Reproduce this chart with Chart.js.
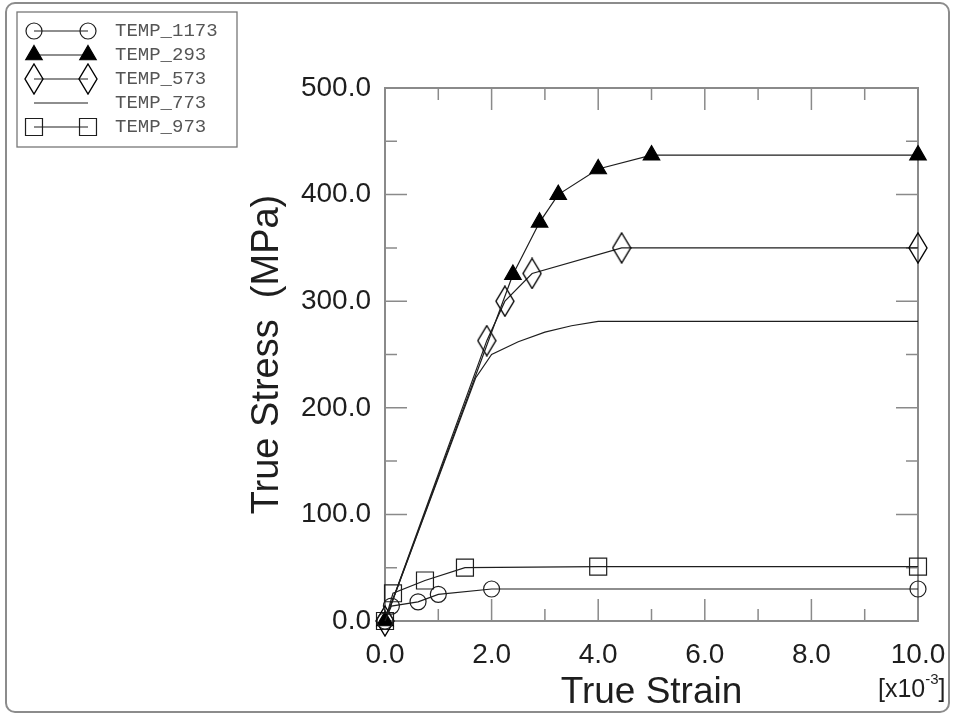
<!DOCTYPE html>
<html>
<head>
<meta charset="utf-8">
<script src="https://cdn.jsdelivr.net/npm/chart.js@4.4.1/dist/chart.umd.min.js"></script>
<style>
  html, body { margin: 0; padding: 0; background: #fff; }
</style>
</head>
<body>
<canvas id="stressChart" width="953" height="715"></canvas>
<script>
// Curvas tension-deformacion por temperatura (strain en x10^-3, stress en MPa)
const seriesNames = ['TEMP_1173', 'TEMP_293', 'TEMP_573', 'TEMP_773', 'TEMP_973'];

const strain1173 = [0, 0.12, 0.62, 1.0, 2.0, 10.0];
const stress1173 = [0, 14, 18, 25, 30, 30];

const strain293 = [0, 2.4, 2.9, 3.25, 4.0, 5.0, 10.0];
const stress293 = [0, 325, 374, 400, 424, 437, 437];

const strain573 = [0, 1.91, 2.25, 2.76, 4.44, 10.0];
const stress573 = [0, 263, 300, 326, 350, 350];

const strain773 = [0, 1.7, 2.0, 2.5, 3.0, 3.5, 4.0, 10.0];
const stress773 = [0, 228, 250, 262, 271, 277, 281, 281];

const strain973 = [0, 0.15, 0.75, 1.5, 4.0, 10.0];
const stress973 = [0, 26, 38, 50, 51, 51];

const xTicks = [0, 2, 4, 6, 8, 10];
const yTicks = [0, 100, 200, 300, 400, 500];

const INK = '#1e1e1e';
const FRAME = '#8a8a8a';

function pts(xs, ys) {
    return xs.map((x, i) => ({ x: x, y: ys[i] }));
}

// rombo alargado como en la figura
const diamond = document.createElement('canvas');
diamond.width = 20;
diamond.height = 32;
(function () {
    const c = diamond.getContext('2d');
    c.strokeStyle = '#000';
    c.lineWidth = 1.4;
    c.beginPath();
    c.moveTo(10, 1);
    c.lineTo(19, 16);
    c.lineTo(10, 31);
    c.lineTo(1, 16);
    c.closePath();
    c.stroke();
})();

const baseLine = {
    showLine: true,
    clip: false,
    borderColor: INK,
    borderWidth: 1.2,
    pointBorderColor: INK,
    pointBorderWidth: 1.2,
    tension: 0
};

const datasets = [
    Object.assign({}, baseLine, {
        label: seriesNames[0], data: pts(strain1173, stress1173),
        pointStyle: 'circle', pointRadius: 8, pointBackgroundColor: 'rgba(0,0,0,0)'
    }),
    Object.assign({}, baseLine, {
        label: seriesNames[1], data: pts(strain293, stress293),
        pointStyle: 'triangle', pointRadius: 9.5, pointBackgroundColor: '#000', pointBorderColor: '#000'
    }),
    Object.assign({}, baseLine, {
        label: seriesNames[2], data: pts(strain573, stress573),
        pointStyle: diamond, pointRadius: 10, pointBackgroundColor: 'rgba(0,0,0,0)'
    }),
    Object.assign({}, baseLine, {
        label: seriesNames[3], data: pts(strain773, stress773),
        pointRadius: 0
    }),
    Object.assign({}, baseLine, {
        label: seriesNames[4], data: pts(strain973, stress973),
        pointStyle: 'rect', pointRadius: 12, pointBackgroundColor: 'rgba(0,0,0,0)'
    })
];

// marco con marcas hacia dentro en los cuatro lados
const framePlugin = {
    id: 'frame',
    beforeDatasetsDraw(chart) {
        const { ctx, chartArea: a, scales: { x, y } } = chart;
        ctx.save();
        ctx.strokeStyle = FRAME;
        ctx.lineWidth = 2;
        ctx.strokeRect(a.left, a.top, a.right - a.left, a.bottom - a.top);
        ctx.lineWidth = 1.5;
        ctx.beginPath();
        for (let v = 1; v < 10; v++) {
            const px = x.getPixelForValue(v);
            const len = v % 2 === 0 ? 22 : 12;
            ctx.moveTo(px, a.bottom); ctx.lineTo(px, a.bottom - len);
            ctx.moveTo(px, a.top); ctx.lineTo(px, a.top + len);
        }
        for (let v = 50; v < 500; v += 50) {
            const py = y.getPixelForValue(v);
            const len = v % 100 === 0 ? 22 : 12;
            ctx.moveTo(a.left, py); ctx.lineTo(a.left + len, py);
            ctx.moveTo(a.right, py); ctx.lineTo(a.right - len, py);
        }
        ctx.stroke();
        ctx.restore();
    },
    afterDraw(chart) {
        const ctx = chart.ctx;
        ctx.save();
        // borde exterior
        ctx.strokeStyle = '#8c8c8c';
        ctx.lineWidth = 2;
        ctx.beginPath();
        ctx.roundRect(6, 3, 943, 709, 9);
        ctx.stroke();

        // leyenda
        ctx.lineWidth = 1.3;
        ctx.strokeStyle = '#777';
        ctx.strokeRect(17, 12, 220, 135);
        ctx.font = '19px "Liberation Mono", "Courier New", monospace';
        ctx.textBaseline = 'middle';
        chart.data.datasets.forEach((ds, i) => {
            const ry = 31 + i * 24;
            ctx.strokeStyle = INK;
            ctx.lineWidth = 1.2;
            ctx.beginPath();
            ctx.moveTo(34, ry);
            ctx.lineTo(88, ry);
            ctx.stroke();
            if (ds.pointRadius > 0) {
                ctx.fillStyle = ds.pointBackgroundColor;
                ctx.strokeStyle = ds.pointBorderColor;
                [34, 88].forEach(px => {
                    Chart.helpers.drawPoint(ctx, {
                        pointStyle: ds.pointStyle,
                        radius: ds.pointRadius,
                        rotation: 0,
                        borderWidth: 1.2
                    }, px, ry);
                });
            }
            ctx.fillStyle = '#555';
            ctx.fillText(ds.label, 115, ry);
        });

        // factor de escala del eje x
        ctx.fillStyle = INK;
        ctx.textBaseline = 'alphabetic';
        ctx.font = '25px "Liberation Sans", Arial, sans-serif';
        ctx.fillText('[x10', 878, 697);
        const w = ctx.measureText('[x10').width;
        ctx.font = '15px "Liberation Sans", Arial, sans-serif';
        ctx.fillText('-3', 878 + w, 684);
        const w2 = ctx.measureText('-3').width;
        ctx.font = '25px "Liberation Sans", Arial, sans-serif';
        ctx.fillText(']', 878 + w + w2, 697);
        ctx.restore();
    }
};

const ctxStress = document.getElementById('stressChart').getContext('2d');
const stressChart = new Chart(ctxStress, {
    type: 'scatter',
    data: { datasets: datasets },
    options: {
        responsive: false,
        devicePixelRatio: 1,
        animation: false,
        layout: { padding: { left: 245, top: 88, right: 35, bottom: 0 } },
        plugins: {
            legend: { display: false },
            tooltip: { enabled: false }
        },
        scales: {
            x: {
                type: 'linear',
                min: 0,
                max: 10,
                afterFit: s => { s.height = 94; s.paddingLeft = 0; s.paddingRight = 0; },
                afterBuildTicks: s => { s.ticks = xTicks.map(v => ({ value: v })); },
                grid: { display: false, drawTicks: false },
                border: { display: false },
                ticks: {
                    padding: 17,
                    color: INK,
                    font: { family: '"Liberation Sans", Arial, sans-serif', size: 28 },
                    callback: v => v.toFixed(1)
                },
                title: {
                    display: true,
                    text: 'True Strain',
                    color: INK,
                    padding: 0,
                    font: { family: '"Liberation Sans", Arial, sans-serif', size: 37 }
                }
            },
            y: {
                type: 'linear',
                min: 0,
                max: 500,
                afterFit: s => { s.width = 140; s.paddingTop = 0; s.paddingBottom = 0; },
                afterBuildTicks: s => { s.ticks = yTicks.map(v => ({ value: v })); },
                grid: { display: false, drawTicks: false },
                border: { display: false },
                ticks: {
                    padding: 14,
                    color: INK,
                    font: { family: '"Liberation Sans", Arial, sans-serif', size: 28 },
                    callback: v => v.toFixed(1)
                },
                title: {
                    display: true,
                    text: 'True Stress  (MPa)',
                    color: INK,
                    padding: 0,
                    font: { family: '"Liberation Sans", Arial, sans-serif', size: 38 }
                }
            }
        }
    },
    plugins: [framePlugin]
});
</script>
</body>
</html>
